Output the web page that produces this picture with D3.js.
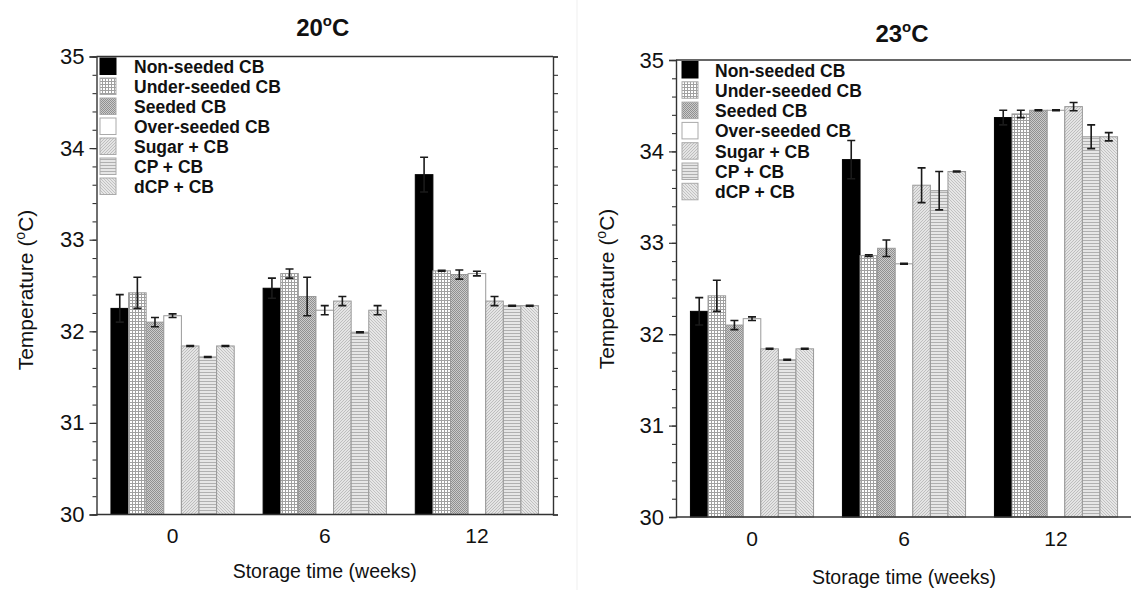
<!DOCTYPE html>
<html><head><meta charset="utf-8">
<script src="https://cdn.jsdelivr.net/npm/d3@7"></script>
<style>
html,body{margin:0;padding:0;background:#fff;}
svg{display:block;font-family:"Liberation Sans",Arial,sans-serif;}
</style></head>
<body><svg id="chart" width="1131" height="590"></svg>
<script>
// ---------- data ----------
const categories = ["0", "6", "12"];
const series = ["Non-seeded CB", "Under-seeded CB", "Seeded CB", "Over-seeded CB", "Sugar + CB", "CP + CB", "dCP + CB"];
const yTicks = [30, 31, 32, 33, 34, 35];
const panelTitles = ["20", "23"];

// 20 °C panel: mean per week (series order), and error
const temp20_w0  = [32.25, 32.42, 32.10, 32.17, 31.84, 31.72, 31.84];
const temp20_w6  = [32.47, 32.63, 32.38, 32.23, 32.33, 31.99, 32.23];
const temp20_w12 = [33.71, 32.66, 32.62, 32.63, 32.33, 32.28, 32.28];
const err20_w0   = [0.15, 0.17, 0.05, 0.02, 0.005, 0.005, 0.005];
const err20_w6   = [0.11, 0.05, 0.21, 0.05, 0.05, 0.005, 0.05];
const err20_w12  = [0.19, 0.005, 0.05, 0.025, 0.05, 0.005, 0.005];

// 23 °C panel
const temp23_w0  = [32.25, 32.42, 32.10, 32.17, 31.84, 31.72, 31.84];
const temp23_w6  = [33.91, 32.86, 32.94, 32.77, 33.63, 33.57, 33.78];
const temp23_w12 = [34.37, 34.41, 34.45, 34.45, 34.49, 34.16, 34.16];
const err23_w0   = [0.15, 0.17, 0.05, 0.02, 0.005, 0.005, 0.005];
const err23_w6   = [0.21, 0.01, 0.09, 0.005, 0.19, 0.21, 0.005];
const err23_w12  = [0.08, 0.04, 0.005, 0.005, 0.045, 0.13, 0.045];

// ---------- drawing ----------
const svg = d3.select("#chart");
const defs = svg.append("defs");

function pat(id, w, h, bg, draw) {
  const p = defs.append("pattern").attr("id", id).attr("patternUnits", "userSpaceOnUse")
    .attr("width", w).attr("height", h);
  p.append("rect").attr("width", w).attr("height", h).attr("fill", bg);
  draw(p);
}
pat("pGrid", 3, 3, "#ffffff", p => {
  p.append("rect").attr("x", 0).attr("y", 0).attr("width", 1).attr("height", 3).attr("fill", "#a0a0a0");
  p.append("rect").attr("x", 0).attr("y", 0).attr("width", 3).attr("height", 1).attr("fill", "#a0a0a0");
});
pat("pDot", 2, 2, "#cbcbcb", p => {
  p.append("rect").attr("x", 0).attr("y", 0).attr("width", 1).attr("height", 1).attr("fill", "#909090");
  p.append("rect").attr("x", 1).attr("y", 1).attr("width", 1).attr("height", 1).attr("fill", "#909090");
});
pat("pSugar", 3, 3, "#e4e4e4", p => {
  p.append("path").attr("d", "M-1,1 L1,-1 M0,3 L3,0 M2,4 L4,2").attr("stroke", "#b4b4b4").attr("stroke-width", 0.8);
});
pat("pCP", 3, 3, "#e6e6e6", p => {
  p.append("rect").attr("x", 0).attr("y", 0).attr("width", 3).attr("height", 1).attr("fill", "#b0b0b0");
});
pat("pdCP", 3, 3, "#e6e6e6", p => {
  p.append("path").attr("d", "M-1,2 L1,4 M0,0 L3,3 M2,-1 L4,1").attr("stroke", "#b8b8b8").attr("stroke-width", 0.8);
});

const fills = ["#000000", "url(#pGrid)", "url(#pDot)", "#ffffff", "url(#pSugar)", "url(#pCP)", "url(#pdCP)"];
const strokes = ["#000000", "#999", "#999", "#999", "#999", "#999", "#999"];

// faint separator
svg.append("line").attr("x1", 577).attr("x2", 577).attr("y1", 0).attr("y2", 590)
  .attr("stroke", "#efefef").attr("stroke-width", 1);

const panels = [
  { title: panelTitles[0], vals: [temp20_w0, temp20_w6, temp20_w12], errs: [err20_w0, err20_w6, err20_w12],
    x0: 96.5, x1: 553, y0: 56.5, y1: 514.5, titleY: 36, tickLabY: 543, axTitleY: 578, yTitleX: 33, yTitleC: 290,
    legTop: 58, legSp: 20, swX: 3.5, txX: 37.5 },
  { title: panelTitles[1], vals: [temp23_w0, temp23_w6, temp23_w12], errs: [err23_w0, err23_w6, err23_w12],
    x0: 676, x1: 1132, y0: 60, y1: 517, titleY: 42, tickLabY: 546, axTitleY: 584, yTitleX: 614, yTitleC: 289,
    legTop: 61.5, legSp: 20.3, swX: 6, txX: 39 }
];

panels.forEach(P => {
  const g = svg.append("g");
  const x = d3.scaleBand().domain(categories).range([P.x0, P.x1]).paddingInner(0.19).paddingOuter(0.095);
  const xs = d3.scaleBand().domain(series).range([0, x.bandwidth()]);
  const y = d3.scaleLinear().domain([30, 35]).range([P.y1, P.y0]);

  // bars
  categories.forEach((c, ci) => {
    series.forEach((s, si) => {
      const v = P.vals[ci][si], e = P.errs[ci][si];
      const bx = x(c) + xs(s);
      g.append("rect").attr("x", bx).attr("y", y(v)).attr("width", xs.bandwidth()).attr("height", y(30) - y(v))
        .attr("fill", fills[si]).attr("stroke", strokes[si]).attr("stroke-width", 1);
      const cx = bx + xs.bandwidth() / 2;
      g.append("path")
        .attr("d", `M${cx - 4},${y(v + e)}H${cx + 4}M${cx},${y(v + e)}V${y(v - e)}M${cx - 4},${y(v - e)}H${cx + 4}`)
        .attr("stroke", "#1a1a1a").attr("stroke-width", 1.6).attr("fill", "none");
    });
  });

  // frame
  const ac = "#333", aw = 1.4;
  g.append("line").attr("x1", P.x0).attr("x2", P.x1).attr("y1", P.y0).attr("y2", P.y0).attr("stroke", ac).attr("stroke-width", aw);
  g.append("line").attr("x1", P.x0).attr("x2", P.x1).attr("y1", P.y1).attr("y2", P.y1).attr("stroke", ac).attr("stroke-width", aw);

  const minor = d3.range(0, 26).map(i => 30 + i * 0.2);
  // left axis
  const la = d3.axisLeft(y).tickValues(yTicks).tickSize(7).tickPadding(5).tickFormat(d3.format("d"));
  const lg = g.append("g").attr("transform", `translate(${P.x0},0)`).call(la);
  lg.select(".domain").attr("stroke", ac).attr("stroke-width", aw);
  lg.selectAll(".tick line").attr("stroke", ac).attr("stroke-width", 1.2);
  lg.selectAll(".tick text").attr("font-size", 22).attr("fill", "#111").attr("font-family", "Liberation Sans, Arial, sans-serif");
  const lm = g.append("g").attr("transform", `translate(${P.x0},0)`).call(d3.axisLeft(y).tickValues(minor).tickSize(4).tickFormat(""));
  lm.select(".domain").remove();
  lm.selectAll(".tick line").attr("stroke", ac).attr("stroke-width", 1.1);
  // right axis
  const rg = g.append("g").attr("transform", `translate(${P.x1},0)`).call(d3.axisRight(y).tickValues(minor).tickSize(5).tickFormat(""));
  rg.select(".domain").attr("stroke", ac).attr("stroke-width", aw);
  rg.selectAll(".tick line").attr("stroke", ac).attr("stroke-width", 1.1);

  // x labels
  const bx = d3.axisBottom(x).tickSize(0).tickPadding(0);
  const bg = g.append("g").attr("transform", `translate(0,${P.y1})`).call(bx);
  bg.select(".domain").remove();
  bg.selectAll(".tick text").attr("font-size", 21).attr("fill", "#111").attr("dy", null)
    .attr("y", P.tickLabY - P.y1).attr("font-family", "Liberation Sans, Arial, sans-serif");

  // axis titles
  g.append("text").attr("x", (P.x0 + P.x1) / 2).attr("y", P.axTitleY).attr("text-anchor", "middle")
    .attr("font-size", 19.5).attr("fill", "#111").text("Storage time (weeks)");
  const yt = g.append("text").attr("transform", `translate(${P.yTitleX},${P.yTitleC}) rotate(-90)`)
    .attr("text-anchor", "middle").attr("font-size", 21).attr("fill", "#111");
  yt.append("tspan").text("Temperature (");
  yt.append("tspan").attr("font-size", 14).attr("dy", -8).text("o");
  yt.append("tspan").attr("dy", 8).text("C)");

  // panel title
  const tt = g.append("text").attr("x", (P.x0 + P.x1) / 2 - 2).attr("y", P.titleY).attr("text-anchor", "middle")
    .attr("font-size", 24).attr("font-weight", "bold").attr("fill", "#111");
  tt.append("tspan").text(P.title);
  tt.append("tspan").attr("font-size", 15).attr("dy", -10).text("o");
  tt.append("tspan").attr("dy", 10).text("C");

  // legend
  const leg = g.append("g");
  series.forEach((s, i) => {
    const ly = P.legTop + i * P.legSp;
    leg.append("rect").attr("x", P.x0 + P.swX).attr("y", ly).attr("width", 16).attr("height", 16.5)
      .attr("fill", fills[i]).attr("stroke", i === 0 ? "#000" : "#aaa").attr("stroke-width", 1);
    leg.append("text").attr("x", P.x0 + P.txX).attr("y", ly + 15).attr("font-size", 17.5).attr("font-weight", "bold")
      .attr("fill", "#111").text(s);
  });
});
</script>
</body></html>
